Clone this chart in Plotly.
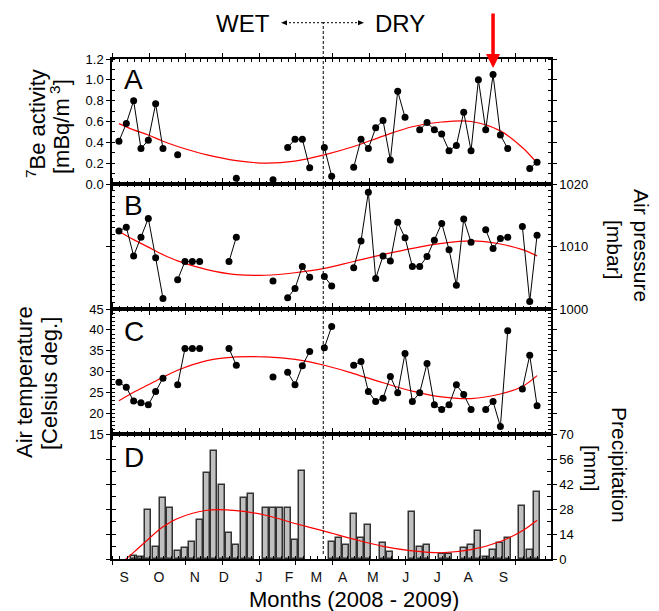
import plotly.graph_objects as go

N = None
# sample number (weekly samples, Sept 2008 - Oct 2009)
sample_index = list(range(1, 59))

be7_activity = [0.41, 0.58, 0.80, 0.34, 0.42, 0.77, 0.34, N, 0.28, N,
                N, N, N, N, N, N, 0.055, N, N, N,
                N, 0.04, N, 0.35, 0.43, 0.43, 0.155, N, 0.35, 0.075,
                N, N, 0.16, 0.43, 0.34, 0.54, 0.61, 0.23, 0.89, 0.64,
                N, 0.52, 0.59, 0.52, 0.48, 0.32, 0.37, 0.69, 0.32, 1.00,
                0.52, 1.05, 0.47, 0.34, N, N, 0.15, 0.21]

air_pressure = [1012.5, 1013.1, 1008.5, 1011.5, 1014.5, 1008.2, 1001.7, N, 1004.7, 1007.6,
                1007.6, 1007.6, N, N, N, 1007.6, 1011.5, N, N, N,
                N, 1004.5, N, 1001.8, 1003.3, 1006.8, 1005.1, N, 1005.2, 1003.7,
                N, N, 1006.6, 1010.9, 1018.7, 1004.9, 1008.5, 1007.7, 1013.9, 1011.4,
                1006.8, 1006.8, 1008.4, 1011.0, 1013.7, 1009.5, 1003.8, 1014.4, 1010.7, N,
                1012.7, 1009.7, 1011.3, 1011.5, N, 1013.2, 1001.2, 1011.8]

air_temperature = [27.4, 26.2, 22.9, 22.5, 22.0, 25.2, 28.4, N, 26.8, 35.5,
                   35.5, 35.5, N, N, N, 35.5, 31.5, N, N, N,
                   N, 28.7, N, 29.8, 26.8, 31.4, 34.8, N, 35.7, 40.8,
                   N, N, 31.5, 32.4, 25.2, 22.8, 23.6, 28.8, 24.9, 34.3,
                   22.8, 24.9, 31.9, 22.0, 20.9, 22.0, 26.8, 24.5, 20.9, N,
                   20.9, 22.8, 16.8, 39.8, N, 25.8, 33.9, 21.8]

precipitation = [N, N, 1.9, 0.9, 27.7, 6.9, 34.4, 28.6, 4.6, 5.9,
                 9.7, 21.7, 48.3, 60.4, 41.4, 14.7, 7.6, 34.4, 36.4, N,
                 28.6, 28.6, 28.6, 28.6, 10.8, 49.2, N, N, N, 9.7,
                 11.7, 7.6, 25.4, 11.7, 18.8, N, 8.7, 3.7, N, N,
                 26.6, 6.9, 7.6, N, 2.8, 2.8, N, 6.1, 7.8, 15.8,
                 0.9, 4.8, 8.7, 11.7, N, 29.5, 4.8, 37.7]

# red fitted curves
fit_index = [1, 3, 5, 7, 9, 13, 17, 21, 25, 29, 33, 37, 41, 45, 49, 53, 56, 58]
fit_be7 = [0.58, 0.52, 0.47, 0.41, 0.36, 0.28, 0.225, 0.20, 0.22, 0.28, 0.36, 0.46,
           0.55, 0.595, 0.60, 0.51, 0.35, 0.20]
fit_pressure = [1012.4, 1011.1, 1009.9, 1008.7, 1007.7, 1006.3, 1005.5, 1005.4, 1005.8,
                1006.5, 1007.6, 1008.7, 1009.7, 1010.5, 1010.9, 1010.4, 1009.5, 1008.5]
fit_temperature = [23.0, 25.0, 26.8, 28.6, 30.3, 32.6, 33.5, 33.5, 32.9, 31.5, 29.5,
                   27.3, 25.3, 23.9, 23.5, 24.6, 26.4, 29.0]
fit_precip = [-3.3, 3.7, 11.1, 18.0, 22.7, 27.3, 27.1, 24.5, 19.9, 15.6, 11.1, 7.1,
              4.6, 3.5, 5.2, 9.8, 15.8, 21.7]

month_labels = ["S", "O", "N", "D", "J", "F", "M", "A", "M", "J", "J", "A", "S"]
month_label_pos = [1.7, 6.45, 11.35, 15.3, 20.1, 24.2, 27.9, 31.5, 35.6, 40.1, 44.4, 48.6, 53.4]

season_change = 28.85   # WET / DRY boundary (sample index)
highlight_sample = 52   # red arrow

FONT = "Liberation Sans, Arial, sans-serif"
fig = go.Figure()

panels = [("x", "y", be7_activity, fit_be7),
          ("x2", "y2", air_pressure, fit_pressure),
          ("x3", "y3", air_temperature, fit_temperature)]
for xa, ya, vals, fit in panels:
    fig.add_trace(go.Scatter(x=fit_index, y=fit, mode="lines", xaxis=xa, yaxis=ya,
                             line=dict(color="red", width=1.2, shape="spline"),
                             hoverinfo="skip", showlegend=False))
    fig.add_trace(go.Scatter(x=sample_index, y=vals, mode="lines+markers", xaxis=xa, yaxis=ya,
                             connectgaps=False, line=dict(color="black", width=1),
                             marker=dict(color="black", size=7), showlegend=False))

fig.add_trace(go.Bar(x=sample_index, y=precipitation, xaxis="x4", yaxis="y4", width=0.8,
                     marker=dict(color="#c0c0c0", line=dict(color="#333333", width=1.5)),
                     showlegend=False))
fig.add_trace(go.Scatter(x=fit_index, y=fit_precip, mode="lines", xaxis="x4", yaxis="y4",
                         line=dict(color="red", width=1.2, shape="spline"),
                         hoverinfo="skip", showlegend=False))
# carrier trace for the month-label axis
fig.add_trace(go.Scatter(x=[None], y=[None], xaxis="x5", yaxis="y4", mode="markers",
                         showlegend=False, hoverinfo="skip"))

xr = [0.05, 59.9]
xcommon = dict(range=xr, showline=True, linewidth=1.5, linecolor="black", mirror="allticks",
               ticks="outside", ticklen=4, tickwidth=1, tickcolor="black", tick0=0.1, dtick=5,
               minor=dict(ticks="inside", ticklen=3, tick0=0.1, dtick=1, tickcolor="black"),
               showticklabels=False, showgrid=False, zeroline=False, fixedrange=True)

def ycommon(rng, dtick, minor, side, fmt=None):
    d = dict(range=rng, dtick=dtick, tick0=rng[0], side=side, showline=True, linewidth=1.5,
             linecolor="black", mirror="allticks", ticks="outside", ticklen=4, tickwidth=1,
             tickcolor="black", minor=dict(ticks="inside", ticklen=3, dtick=minor,
                                           tick0=rng[0], tickcolor="black"),
             showgrid=False, zeroline=False, tickfont=dict(size=13, color="black", family=FONT))
    if fmt:
        d["tickformat"] = fmt
    return d

fig.update_layout(
    width=659, height=611,
    margin=dict(l=112, r=108, t=59, b=52),
    plot_bgcolor="white", paper_bgcolor="white",
    font=dict(family=FONT, color="black"),
    bargap=0,
    xaxis=dict(xcommon, anchor="y"),
    xaxis2=dict(xcommon, anchor="y2", matches="x"),
    xaxis3=dict(xcommon, anchor="y3", matches="x"),
    xaxis4=dict(xcommon, anchor="y4", matches="x"),
    xaxis5=dict(range=xr, overlaying="x4", anchor="y4", side="bottom", tickmode="array",
                tickvals=month_label_pos, ticktext=month_labels, ticks="", showline=False,
                showgrid=False, zeroline=False, ticklabelstandoff=8,
                tickfont=dict(size=14, color="#111111", family=FONT)),
    yaxis=dict(ycommon([0, 1.2], 0.2, 0.1, "left", ".1f"), domain=[0.75, 1.0], anchor="x"),
    yaxis2=dict(ycommon([1000, 1020], 10, 1, "right"), domain=[0.5, 0.75], anchor="x2"),
    yaxis3=dict(ycommon([15, 45], 5, 1, "left"), domain=[0.25, 0.5], anchor="x3"),
    yaxis4=dict(ycommon([0, 70], 14, 7, "right"), domain=[0.0, 0.25], anchor="x4"),
)

annotations = []
for letter, xref, yref, yy in [("A", "x domain", "y domain", 0.835),
                               ("B", "x2 domain", "y2 domain", 0.825),
                               ("C", "x3 domain", "y3 domain", 0.818),
                               ("D", "x4 domain", "y4 domain", 0.816)]:
    annotations.append(dict(text=letter, xref=xref, yref=yref, x=0.022, y=yy,
                            xanchor="left", yanchor="middle", showarrow=False,
                            font=dict(size=28, family=FONT)))

def title(text, px, py, angle, size=22):
    return dict(text=text, xref="paper", yref="paper", x=(px - 112) / 439, y=(559 - py) / 500,
                xanchor="center", yanchor="middle", textangle=angle, showarrow=False,
                font=dict(size=size, family=FONT))

annotations += [
    title("<sup>7</sup>Be activity", 36, 124, -90),
    title("[mBq/m<sup> 3</sup>]", 60, 127, -90),
    title("Air temperature", 24, 382, -90),
    title("[Celsius deg.]", 49, 384, -90),
    title("Air pressure", 642, 245, 90, 21),
    title("[mbar]", 615, 250, 90, 21),
    title("Precipitation", 620, 465, 90, 21),
    title("[mm]", 592, 468, 90, 21),
    title("Months (2008 - 2009)", 354, 599, 0),
    title("WET", 243, 24, 0, 24),
    title("DRY", 400, 24, 0, 24),
]
annotations.append(dict(text="", x=highlight_sample, y=1.113, xref="x", yref="y",
                        ax=0, ay=-56, showarrow=True, arrowcolor="red", arrowwidth=3.5,
                        arrowhead=2, arrowsize=0.8, standoff=0))
fig.update_layout(annotations=annotations)

def px2x(px):
    return (px - 112) / 439

def py2y(py):
    return (559 - py) / 500

ya = py2y(22.7)
shapes = [
    dict(type="line", xref="x", yref="paper", x0=season_change, x1=season_change,
         y0=py2y(554), y1=ya, line=dict(color="black", width=1, dash="3px,2px")),
    dict(type="line", xref="paper", yref="paper", x0=px2x(323), x1=px2x(285), y0=ya, y1=ya,
         line=dict(color="black", width=1, dash="2px,2px")),
    dict(type="line", xref="paper", yref="paper", x0=px2x(323), x1=px2x(360), y0=ya, y1=ya,
         line=dict(color="black", width=1, dash="2px,2px")),
]
dx = 6 / 439
dy = 2.5 / 500
tl = px2x(281)
tr = px2x(364)
shapes.append(dict(type="path", xref="paper", yref="paper",
                   path=f"M {tl},{ya} L {tl+dx},{ya+dy} L {tl+dx},{ya-dy} Z",
                   fillcolor="black", line=dict(width=0)))
shapes.append(dict(type="path", xref="paper", yref="paper",
                   path=f"M {tr},{ya} L {tr-dx},{ya+dy} L {tr-dx},{ya-dy} Z",
                   fillcolor="black", line=dict(width=0)))
fig.update_layout(shapes=shapes)

fig.write_html("out.html", config={"displayModeBar": False},
               post_script="document.body.style.margin='0';document.body.style.padding='0';")
